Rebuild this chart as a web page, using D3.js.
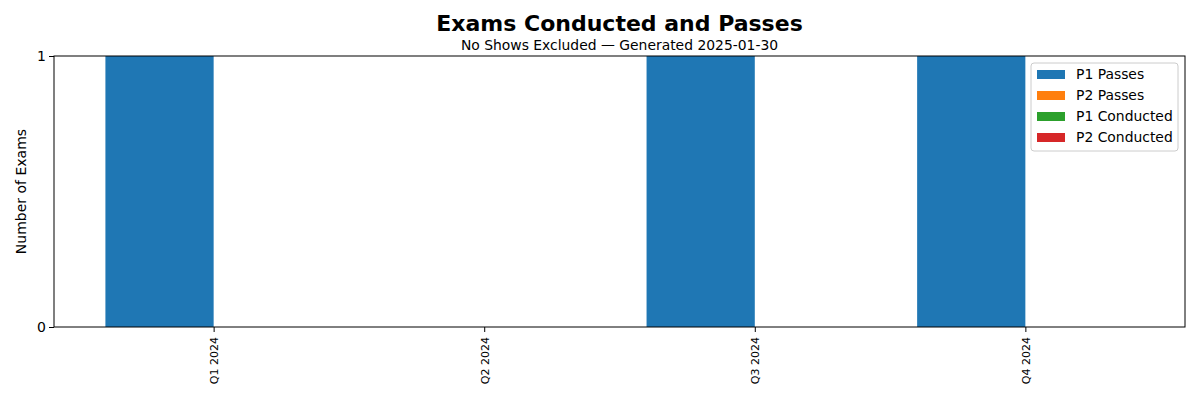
<!DOCTYPE html>
<html>
<head>
<meta charset="utf-8">
<script src="https://cdn.jsdelivr.net/npm/d3@7"></script>
<style>
  body { margin: 0; background: #fff; }
  svg, svg text { font-family: "DejaVu Sans", sans-serif; }
</style>
</head>
<body>
<svg id="chart" width="1200" height="400"></svg>
<script>
const quarters = ['Q1 2024', 'Q2 2024', 'Q3 2024', 'Q4 2024'];
const p1Passes = [1, 0, 1, 1];
const p2Passes = [0, 0, 0, 0];
const p1Conducted = [0, 0, 0, 0];
const p2Conducted = [0, 0, 0, 0];
const yTicks = [0, 1];

const seriesNames = ['P1 Passes', 'P2 Passes', 'P1 Conducted', 'P2 Conducted'];
const colors = ['#1f77b4', '#ff7f0e', '#2ca02c', '#d62728'];

const margin = { top: 56, right: 15, bottom: 73, left: 54 };
const width = 1200;
const height = 400;
const innerWidth = width - margin.left - margin.right;
const innerHeight = height - margin.top - margin.bottom;
const barW = 0.4;

const svg = d3.select('#chart');
const g = svg.append('g')
  .attr('transform', `translate(${margin.left}, ${margin.top})`);

// matplotlib-like 5% margins around the bar extents
const lo = -barW, hi = quarters.length - 1 + barW;
const pad = (hi - lo) * 0.05;
const x = d3.scaleLinear()
  .domain([lo - pad, hi + pad])
  .range([0, innerWidth]);
const y = d3.scaleLinear()
  .domain([0, 1])
  .range([innerHeight, 0]);

// stacked groups: passes left of tick, conducted right of tick
const groups = [
  { offset: -barW, layers: [p1Passes, p2Passes], cols: [colors[0], colors[1]] },
  { offset: 0, layers: [p1Conducted, p2Conducted], cols: [colors[2], colors[3]] },
];

groups.forEach(grp => {
  const base = quarters.map(() => 0);
  grp.layers.forEach((vals, li) => {
    const rows = quarters.map((q, i) => ({ i, y0: base[i], y1: base[i] + vals[i] }));
    rows.forEach(r => { base[r.i] = r.y1; });
    g.selectAll(null)
      .data(rows.filter(r => r.y1 > r.y0))
      .enter().append('rect')
        .attr('fill', grp.cols[li])
        .attr('x', d => x(d.i + grp.offset))
        .attr('width', d => x(d.i + grp.offset + barW) - x(d.i + grp.offset))
        .attr('y', d => y(d.y1))
        .attr('height', d => y(d.y0) - y(d.y1));
  });
});

// axes frame
g.append('rect')
  .attr('width', innerWidth)
  .attr('height', innerHeight)
  .attr('fill', 'none')
  .attr('stroke', '#000')
  .attr('stroke-width', 1);

// X axis
const xAxis = d3.axisBottom(x)
  .tickValues(quarters.map((q, i) => i))
  .tickFormat(i => quarters[i])
  .tickSizeInner(5)
  .tickSizeOuter(0);
const xg = g.append('g')
  .attr('transform', `translate(0, ${innerHeight})`)
  .call(xAxis)
  .attr('font-family', 'DejaVu Sans');
xg.select('.domain').remove();
xg.selectAll('line').attr('stroke', '#000');
xg.selectAll('text')
  .attr('font-size', 11)
  .attr('fill', '#000')
  .attr('text-anchor', 'end')
  .attr('transform', 'rotate(-90)')
  .attr('x', -10)
  .attr('y', 0)
  .attr('dy', '0.35em');

// Y axis
const yAxis = d3.axisLeft(y)
  .tickValues(yTicks)
  .tickFormat(d3.format('d'))
  .tickSizeInner(5)
  .tickSizeOuter(0);
const yg = g.append('g').call(yAxis)
  .attr('font-family', 'DejaVu Sans');
yg.select('.domain').remove();
yg.selectAll('line').attr('stroke', '#000');
yg.selectAll('text')
  .attr('font-size', 14)
  .attr('fill', '#000')
  .attr('x', -8);

// Y label
svg.append('text')
  .attr('transform', `translate(26, ${margin.top + innerHeight / 2}) rotate(-90)`)
  .attr('text-anchor', 'middle')
  .attr('font-size', 14)
  .text('Number of Exams');

// Titles
svg.append('text')
  .attr('x', margin.left + innerWidth / 2)
  .attr('y', 31)
  .attr('text-anchor', 'middle')
  .attr('font-size', 22)
  .attr('font-weight', 'bold')
  .text('Exams Conducted and Passes');
svg.append('text')
  .attr('x', margin.left + innerWidth / 2)
  .attr('y', 50)
  .attr('text-anchor', 'middle')
  .attr('font-size', 13.9)
  .text('No Shows Excluded — Generated 2025-01-30');

// Legend
const lg = svg.append('g').attr('transform', 'translate(1031, 63)');
lg.append('rect')
  .attr('width', 147)
  .attr('height', 88)
  .attr('rx', 3)
  .attr('fill', '#fff')
  .attr('fill-opacity', 0.8)
  .attr('stroke', '#ccc');
seriesNames.forEach((name, i) => {
  const row = lg.append('g').attr('transform', `translate(0, ${11 + i * 21})`);
  row.append('rect')
    .attr('x', 6)
    .attr('y', -4)
    .attr('width', 28)
    .attr('height', 9)
    .attr('fill', colors[i]);
  row.append('text')
    .attr('x', 45)
    .attr('dy', '0.35em')
    .attr('font-size', 13.9)
    .attr('fill', '#000')
    .text(name);
});
</script>
</body>
</html>
